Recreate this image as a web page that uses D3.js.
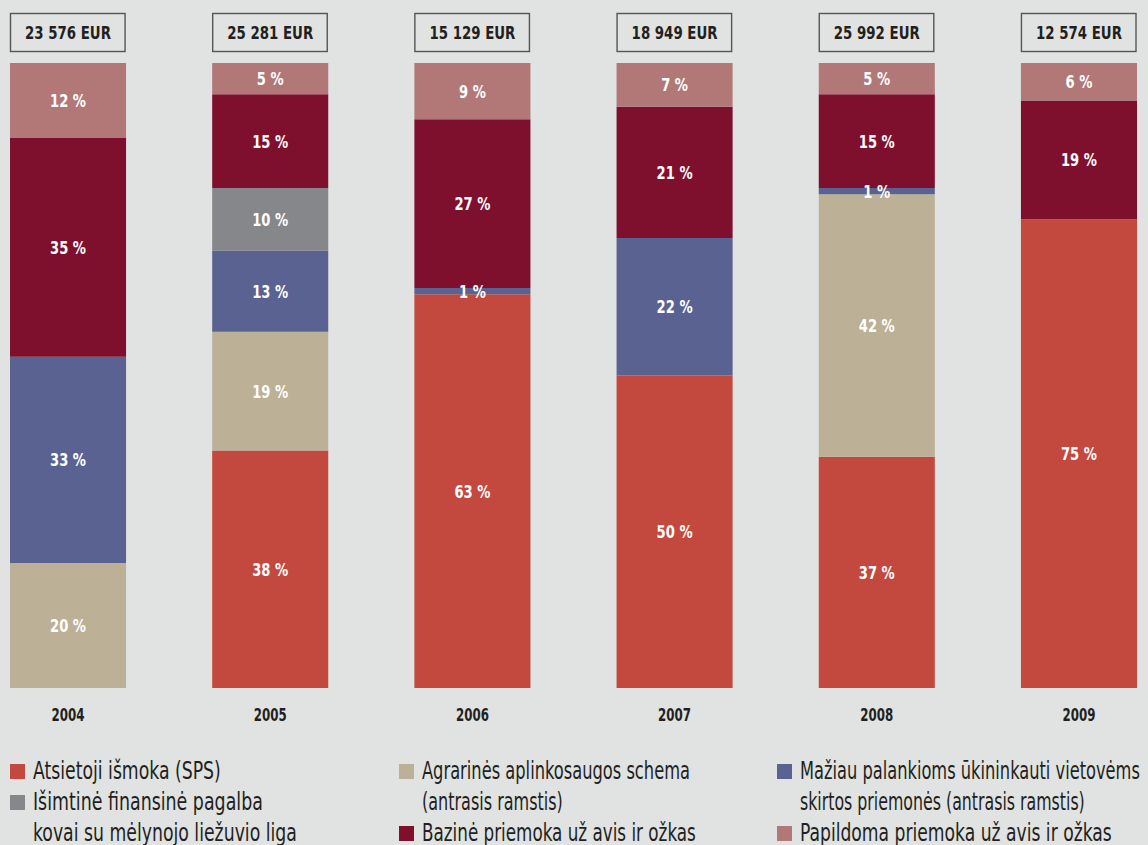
<!DOCTYPE html>
<html><head><meta charset="utf-8">
<script src="https://cdn.jsdelivr.net/npm/d3@7"></script>
<style>
html,body{margin:0;padding:0;background:#e0e3e2;}
svg{display:block;font-family:"DejaVu Sans Condensed","DejaVu Sans",sans-serif;}
</style></head>
<body>
<svg id="chart" width="1148" height="845"></svg>
<script>
const years = ["2004","2005","2006","2007","2008","2009"];
const totals = ["23 576 EUR","25 281 EUR","15 129 EUR","18 949 EUR","25 992 EUR","12 574 EUR"];
const seriesNames = [
  "Atsietoji išmoka (SPS)",
  "Agrarinės aplinkosaugos schema (antrasis ramstis)",
  "Mažiau palankioms ūkininkauti vietovėms skirtos priemonės (antrasis ramstis)",
  "Išimtinė finansinė pagalba kovai su mėlynojo liežuvio liga",
  "Bazinė priemoka už avis ir ožkas",
  "Papildoma priemoka už avis ir ožkas"
];
const sps        = [0, 38, 63, 50, 37, 75];
const agrarines  = [20, 19, 0, 0, 42, 0];
const maziau     = [33, 13, 1, 22, 1, 0];
const isimtine   = [0, 10, 0, 0, 0, 0];
const bazine     = [35, 15, 27, 21, 15, 19];
const papildoma  = [12, 5, 9, 7, 5, 6];
const colors = ["#c3493f","#bcb096","#5a6291","#85878a","#7e102e","#b27877"];

const seriesValues = [sps, agrarines, maziau, isimtine, bazine, papildoma];
const keys = ["s0","s1","s2","s3","s4","s5"];
const table = years.map((y,i)=>{const o={year:y}; keys.forEach((k,j)=>o[k]=seriesValues[j][i]); return o;});
const stacked = d3.stack().keys(keys)(table);

const svg = d3.select("#chart");
const x = d3.scaleBand().domain(years).range([10,1137]).paddingInner(0.426).paddingOuter(0);
const y = d3.scaleLinear().domain([0,100]).range([688,63]);

// horizontal condensing helper (keeps text as real text)
function measure(str, size, weight){
  const t = svg.append("text").attr("font-size",size).attr("font-weight",weight).text(str);
  const w = t.node().getComputedTextLength(); t.remove(); return w;
}
function squeeze(sel, ax, f){
  sel.attr("transform",`translate(${ax},0) scale(${f},1) translate(${-ax},0)`);
}
const fLab = 36 / measure("12 %", 18, "bold");
const fHdr = 86 / measure("23 576 EUR", 18, "bold");
const fYear = 33 / measure("2004", 17, "bold");

// bars
const layers = svg.append("g").selectAll("g").data(stacked).join("g").attr("fill",(d,i)=>colors[i]);
layers.selectAll("rect").data(d=>d).join("rect")
  .attr("x",d=>x(d.data.year)).attr("width",x.bandwidth())
  .attr("y",d=>y(d[1])).attr("height",d=>y(d[0])-y(d[1]));

// labels
const lab = svg.append("g").attr("fill","#fff").attr("font-weight","bold").attr("font-size",18)
  .attr("text-anchor","middle");
stacked.forEach(layer=>{
  layer.forEach(d=>{
    const v = d[1]-d[0];
    if(v>0){
      const cx = x(d.data.year)+x.bandwidth()/2;
      const t = lab.append("text").attr("x",cx)
        .attr("y",(y(d[0])+y(d[1]))/2).attr("dy","0.36em").text(v+" %");
      squeeze(t, cx, fLab);
    }
  });
});

// header boxes
const hdr = svg.append("g");
years.forEach((yr,i)=>{
  const cx = x(yr)+x.bandwidth()/2;
  hdr.append("rect").attr("x",x(yr)+0.5).attr("y",13.5).attr("width",x.bandwidth()-1.5).attr("height",38)
    .attr("fill","none").attr("stroke","#555").attr("stroke-width",1.4);
  const t = hdr.append("text").attr("x",cx).attr("y",32.5).attr("dy","0.36em")
    .attr("text-anchor","middle").attr("font-weight","bold").attr("font-size",18).attr("fill","#231f20")
    .text(totals[i]);
  squeeze(t, cx, fHdr);
});

// x axis labels
const xa = d3.axisBottom(x).tickSize(0).tickPadding(0);
const axg = svg.append("g").attr("transform","translate(0,709)").call(xa);
axg.attr("font-family",null).attr("font-size",null);
axg.select(".domain").remove();
axg.selectAll("text").attr("font-size",17).attr("font-weight","bold").attr("fill","#231f20")
  .each(function(){ squeeze(d3.select(this), 0, fYear); });

// legend (each line fitted to the reference line width)
const legendItems = [
  {c:0, x:10, y:779, lines:[["Atsietoji išmoka (SPS)",188]]},
  {c:3, x:10, y:810, lines:[["Išimtinė finansinė pagalba",230],["kovai su mėlynojo liežuvio liga",264]]},
  {c:1, x:399, y:779, lines:[["Agrarinės aplinkosaugos schema",268],["(antrasis ramstis)",141]]},
  {c:4, x:399, y:841, lines:[["Bazinė priemoka už avis ir ožkas",274]]},
  {c:2, x:777, y:779, lines:[["Mažiau palankioms ūkininkauti vietovėms",340],["skirtos priemonės (antrasis ramstis)",285]]},
  {c:5, x:777, y:841, lines:[["Papildoma priemoka už avis ir ožkas",312]]}
];
const lg = svg.append("g");
legendItems.forEach(it=>{
  lg.append("rect").attr("x",it.x).attr("y",it.y-15).attr("width",15).attr("height",15).attr("fill",colors[it.c]);
  const tx = it.x+23;
  it.lines.forEach(([l,w],k)=>{
    const t = lg.append("text").attr("x",tx).attr("y",it.y+k*31).attr("font-size",24).attr("fill","#231f20").text(l);
    const f = w / t.node().getComputedTextLength();
    squeeze(t, tx, f);
  });
});
</script>
</body></html>
